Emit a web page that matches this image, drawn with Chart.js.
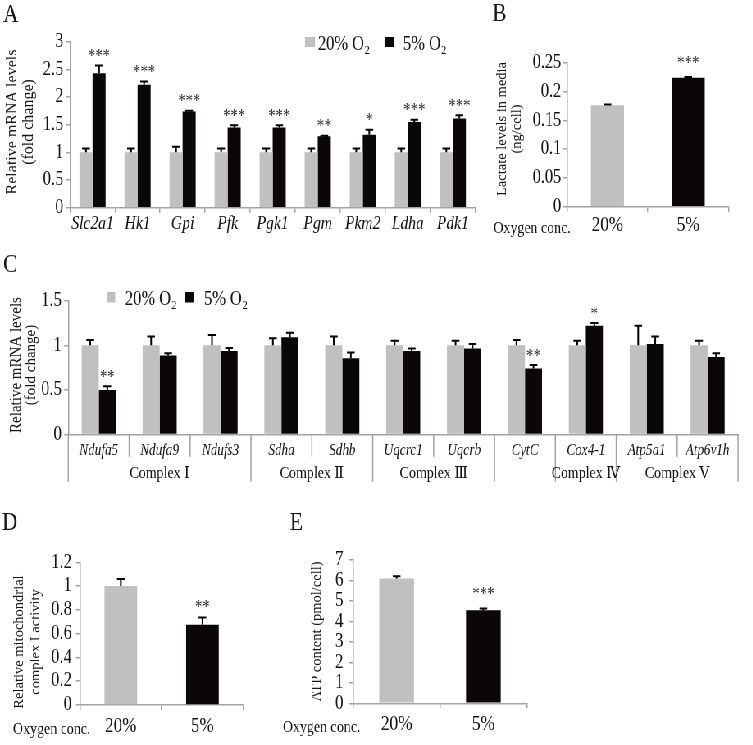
<!DOCTYPE html>
<html>
<head>
<meta charset="utf-8">
<script src="https://cdn.jsdelivr.net/npm/chart.js@4.4.1/dist/chart.umd.min.js"></script>
<style>
  html, body { margin: 0; padding: 0; background: #fff; overflow: hidden; }
  #fig { position: absolute; left: 0; top: 0; height: 745px; transform-origin: 0 0; }
  #fig canvas { position: absolute; }
</style>
</head>
<body>
<div id="fig"></div>
<script>
// panel A - glycolysis genes
const genesA = ['Slc2a1', 'Hk1', 'Gpi', 'Pfk', 'Pgk1', 'Pgm', 'Pkm2', 'Ldha', 'Pdk1']
const normA = [1, 1, 1, 1, 1, 1, 1, 1, 1]
const normErrA = [0.07, 0.07, 0.1, 0.07, 0.07, 0.07, 0.07, 0.07, 0.07]
const hypoA = [2.43, 2.22, 1.74, 1.45, 1.45, 1.29, 1.32, 1.55, 1.61]
const hypoErrA = [0.14, 0.06, 0.01, 0.04, 0.04, 0.01, 0.09, 0.04, 0.06]
const starsA = ['***', '***', '***', '***', '***', '**', '*', '***', '***']
const ticksA = [0, 0.5, 1, 1.5, 2, 2.5, 3]

// panel B - lactate
const oxygen = ['20%', '5%']
const lactate = [0.176, 0.224]
const lactateErr = [0.0015, 0.001]
const starsB = ['', '***']
const ticksB = [0, 0.05, 0.1, 0.15, 0.2, 0.25]

// panel C - mitochondrial genes
const genesC = ['Ndufa5', 'Ndufa9', 'Ndufs3', 'Sdha', 'Sdhb', 'Uqcrc1', 'Uqcrb', 'CytC', 'Cox4-1', 'Atp5a1', 'Atp6v1h']
const groupLabelsC = ['Complex Ⅰ', 'Complex Ⅱ', 'Complex Ⅲ', '', 'Complex Ⅳ', 'Complex Ⅴ']
const groupSizesC = [3, 2, 2, 1, 1, 2]
const normC = [1, 1, 1, 1, 1, 1, 1, 1, 1, 1, 1]
const normErrC = [0.06, 0.1, 0.115, 0.08, 0.1, 0.05, 0.05, 0.06, 0.05, 0.22, 0.05]
const hypoC = [0.5, 0.885, 0.935, 1.09, 0.855, 0.935, 0.965, 0.74, 1.22, 1.015, 0.87]
const hypoErrC = [0.04, 0.025, 0.035, 0.05, 0.065, 0.03, 0.05, 0.04, 0.03, 0.085, 0.04]
const starsC = ['**', '', '', '', '', '', '', '**', '*', '', '']
const ticksC = [0, 0.5, 1, 1.5]

// panel D - complex I activity
const activityD = [1.0, 0.675]
const activityErrD = [0.06, 0.06]
const starsD = ['', '**']
const ticksD = [0, 0.2, 0.4, 0.6, 0.8, 1, 1.2]

// panel E - ATP
const atpE = [6.1, 4.55]
const atpErrE = [0.11, 0.08]
const starsE = ['', '***']
const ticksE = [0, 1, 2, 3, 4, 5, 6, 7]

const GREY = '#c0c0c0'
const BLACK = '#0b0707'
const AXIS = '#a3a3a3'
const TEXT = '#151515'
const SERIF = "'Liberation Serif', 'DejaVu Serif', serif"
const SX = 0.82   // the source figure is a bit squeezed horizontally

Chart.defaults.font.family = SERIF
Chart.defaults.color = TEXT

const fig = document.getElementById('fig')
fig.style.width = (753 / SX) + 'px'
fig.style.transform = 'scaleX(' + SX + ')'

const errorBars = {
    id: 'errorBars',
    afterDatasetsDraw(chart, args, opts) {
        const ctx = chart.ctx
        const y = chart.scales.y
        ctx.save()
        ctx.strokeStyle = '#000'
        ctx.lineWidth = 2
        chart.data.datasets.forEach((ds, i) => {
            chart.getDatasetMeta(i).data.forEach((bar, j) => {
                const top = y.getPixelForValue(ds.data[j] + ds.errors[j])
                ctx.beginPath()
                ctx.moveTo(bar.x, bar.y)
                ctx.lineTo(bar.x, top)
                ctx.moveTo(bar.x - opts.cap / 2, top)
                ctx.lineTo(bar.x + opts.cap / 2, top)
                ctx.stroke()
                const s = ds.stars && ds.stars[j]
                if (s) {
                    ctx.fillStyle = '#333'
                    ctx.font = '18px ' + SERIF
                    ctx.textAlign = 'center'
                    ctx.textBaseline = 'alphabetic'
                    ctx.fillText(s, bar.x, top - opts.starGap + 8.5)
                }
            })
        })
        ctx.restore()
    }
}

// free text: panel letters, "Oxygen conc.", legends and the rotated y titles
const notes = {
    id: 'notes',
    afterDraw(chart, args, opts) {
        const ctx = chart.ctx
        ctx.save()
        ctx.fillStyle = TEXT
        ctx.textBaseline = 'alphabetic'
        ctx.textAlign = 'left'
        ;(opts.items || []).forEach(n => {
            ctx.font = n.size + 'px ' + SERIF
            ctx.fillText(n.text, n.x, n.y)
        })
        ;(opts.legend || []).forEach(l => {
            ctx.fillStyle = l.color
            ctx.fillRect(l.x, l.y, l.w, l.h)
            ctx.fillStyle = TEXT
            ctx.font = '20px ' + SERIF
            ctx.fillText(l.text, l.tx, l.ty)
            const w = ctx.measureText(l.text).width
            ctx.font = '13px ' + SERIF
            ctx.fillText('2', l.tx + w + 0.5, l.ty + 4)
        })
        const t = opts.title
        if (t) {
            ctx.font = t.size + 'px ' + SERIF
            ctx.textAlign = 'center'
            ctx.textBaseline = 'middle'
            t.lines.forEach((line, k) => {
                ctx.save()
                ctx.translate(t.x[k], t.y)
                ctx.scale(1 / SX, 1)
                ctx.rotate(-Math.PI / 2)
                ctx.fillText(line, 0, 0)
                ctx.restore()
            })
        }
        ctx.restore()
    }
}

const groupAxis = {
    id: 'groupAxis',
    afterDraw(chart, args, opts) {
        if (!opts.sizes) return
        const ctx = chart.ctx
        const x = chart.scales.x
        const b = chart.chartArea.bottom
        const n = chart.data.labels.length
        const w = (x.right - x.left) / n
        const ends = [0]
        opts.sizes.forEach(s => ends.push(ends[ends.length - 1] + s))
        ctx.save()
        ctx.strokeStyle = AXIS
        ctx.lineWidth = 1.5
        for (let i = 0; i <= n; i++) {
            const px = x.left + i * w
            ctx.beginPath()
            ctx.moveTo(px, b)
            ctx.lineTo(px, b + (ends.includes(i) ? opts.full : opts.short))
            ctx.stroke()
        }
        ctx.fillStyle = TEXT
        ctx.font = '17px ' + SERIF
        ctx.textAlign = 'center'
        ctx.textBaseline = 'middle'
        opts.labels.forEach((lab, g) => {
            const cx = x.left + (ends[g] + ends[g + 1]) / 2 * w
            ctx.fillText(lab, cx, b + opts.labelY)
        })
        ctx.restore()
    }
}

function panel(box, area, o) {
    const c = document.createElement('canvas')
    c.width = Math.round(box.w / SX)
    c.height = box.h
    c.style.left = (box.x / SX) + 'px'
    c.style.top = box.y + 'px'
    fig.appendChild(c)

    const cx = v => (v - box.x) / SX
    const cy = v => v - box.y
    const yW = (area.l - box.x) / SX
    const xH = box.y + box.h - area.b

    const items = (o.notes || []).map(n => ({ text: n.text, size: n.size, x: cx(n.x), y: cy(n.y) }))
    const legend = (o.legend || []).map(l => ({
        color: l.color, text: l.text,
        x: cx(l.x), y: cy(l.y), w: l.w / SX, h: l.h, tx: cx(l.tx), ty: cy(l.ty)
    }))
    const title = { lines: o.yTitle.lines, size: o.yTitle.size, x: o.yTitle.x.map(cx), y: cy(o.yTitle.y) }

    return new Chart(c, {
        type: 'bar',
        data: { labels: o.labels, datasets: o.datasets },
        options: {
            responsive: false,
            animation: false,
            layout: { padding: { left: 0, top: area.t - box.y, right: (box.x + box.w - area.r) / SX, bottom: 0 } },
            datasets: { bar: { categoryPercentage: o.catPct, barPercentage: 1 } },
            plugins: {
                legend: { display: false },
                tooltip: { enabled: false },
                errorBars: { cap: 9.5, starGap: o.starGap },
                notes: { items: items, legend: legend, title: title },
                groupAxis: o.group || {},
            },
            scales: {
                x: Object.assign({
                    grid: { offset: true, drawOnChartArea: false, tickLength: 5, color: AXIS, lineWidth: 1.5 },
                    border: { color: AXIS, width: 1.5 },
                    ticks: { color: TEXT, font: o.xFont, padding: o.xPad, maxRotation: 0, minRotation: 0, autoSkip: false },
                }, o.x || {}, { afterFit(s) { s.height = xH } }),
                y: {
                    min: o.ticks[0],
                    max: o.ticks[o.ticks.length - 1],
                    afterBuildTicks(s) { s.ticks = o.ticks.map(v => ({ value: v })) },
                    grid: { drawOnChartArea: false, tickLength: 5, color: AXIS, lineWidth: 1.5 },
                    border: { color: AXIS, width: 1.5 },
                    ticks: { color: TEXT, font: { size: o.yTickSize, lineHeight: 1 }, padding: o.yPad, autoSkip: false, callback: v => String(v) },
                    afterFit(s) { s.width = yW }
                }
            }
        },
        plugins: [errorBars, notes, groupAxis]
    })
}

// A
panel({ x: 0, y: 0, w: 490, h: 245 }, { l: 70, t: 41.7, r: 475, b: 207.7 }, {
    labels: genesA,
    datasets: [
        { data: normA, errors: normErrA, backgroundColor: GREY },
        { data: hypoA, errors: hypoErrA, stars: starsA, backgroundColor: BLACK },
    ],
    catPct: 0.58, starGap: 12,
    ticks: ticksA, yTickSize: 20, yPad: 3,
    xFont: { size: 19, style: 'italic', lineHeight: 1 }, xPad: 2,
    yTitle: { lines: ['Relative mRNA levels', '(fold change)'], size: 16, x: [12, 29], y: 122 },
    notes: [{ text: 'A', size: 26, x: 3, y: 22 }],
    legend: [
        { color: GREY, x: 305, y: 37, w: 10, h: 10, text: '20% O', tx: 318, ty: 49.5 },
        { color: BLACK, x: 385, y: 37, w: 9, h: 10, text: '5% O', tx: 403, ty: 49.5 },
    ],
})

// B
panel({ x: 490, y: 0, w: 263, h: 245 }, { l: 566.7, t: 62.7, r: 728, b: 206.7 }, {
    labels: oxygen,
    datasets: [{ data: lactate, errors: lactateErr, stars: starsB, backgroundColor: [GREY, BLACK] }],
    catPct: 0.41, starGap: 16.5,
    ticks: ticksB, yTickSize: 20, yPad: 2,
    xFont: { size: 21, lineHeight: 1 }, xPad: 3.2,
    yTitle: { lines: ['Lactate levels in media', '(ng/cell)'], size: 14.5, x: [501.7, 516.7], y: 129 },
    notes: [
        { text: 'B', size: 26, x: 492, y: 20.7 },
        { text: 'Oxygen conc.', size: 17, x: 493, y: 233 },
    ],
})

// C
panel({ x: 0, y: 245, w: 753, h: 250 }, { l: 68.3, t: 300.7, r: 738.3, b: 434.5 }, {
    labels: genesC,
    datasets: [
        { data: normC, errors: normErrC, backgroundColor: GREY },
        { data: hypoC, errors: hypoErrC, stars: starsC, backgroundColor: BLACK },
    ],
    catPct: 0.56, starGap: 11.5,
    ticks: ticksC, yTickSize: 20, yPad: 3,
    x: { grid: { display: false, drawTicks: false, tickLength: 0 } },
    xFont: { size: 16, style: 'italic', lineHeight: 1 }, xPad: 8.2,
    yTitle: { lines: ['Relative mRNA levels', '(fold change)'], size: 15, x: [16.7, 31.7], y: 365 },
    group: { sizes: groupSizesC, labels: groupLabelsC, short: 22.2, full: 47.2, labelY: 39.5 },
    notes: [{ text: 'C', size: 26, x: 3, y: 271.5 }],
    legend: [
        { color: GREY, x: 106.7, y: 292, w: 8.5, h: 10.5, text: '20% O', tx: 125, ty: 305 },
        { color: BLACK, x: 185, y: 292, w: 8.5, h: 10.5, text: '5% O', tx: 204, ty: 305 },
    ],
})

// D
panel({ x: 0, y: 495, w: 260, h: 250 }, { l: 80, t: 562.3, r: 243.3, b: 705 }, {
    labels: oxygen,
    datasets: [{ data: activityD, errors: activityErrD, stars: starsD, backgroundColor: [GREY, BLACK] }],
    catPct: 0.4, starGap: 12.7,
    ticks: ticksD, yTickSize: 20, yPad: 5,
    xFont: { size: 21, lineHeight: 1 }, xPad: 5.5,
    yTitle: { lines: ['Relative mitochondrial', 'complex I activity'], size: 14.5, x: [19, 35.7], y: 642 },
    notes: [
        { text: 'D', size: 26, x: 2, y: 530 },
        { text: 'Oxygen conc.', size: 17, x: 13, y: 734 },
    ],
})

// E
panel({ x: 260, y: 495, w: 300, h: 250 }, { l: 353.3, t: 560, r: 526.7, b: 703.3 }, {
    labels: oxygen,
    datasets: [{ data: atpE, errors: atpErrE, stars: starsE, backgroundColor: [GREY, BLACK] }],
    catPct: 0.4, starGap: 16.6,
    ticks: ticksE, yTickSize: 20, yPad: 7,
    xFont: { size: 21, lineHeight: 1 }, xPad: 5.6,
    yTitle: { lines: ['ATP content (pmol/cell)'], size: 14.5, x: [316.7], y: 631.5 },
    notes: [
        { text: 'E', size: 26, x: 290, y: 530 },
        { text: 'Oxygen conc.', size: 17, x: 283, y: 731.7 },
    ],
})
</script>
</body>
</html>
